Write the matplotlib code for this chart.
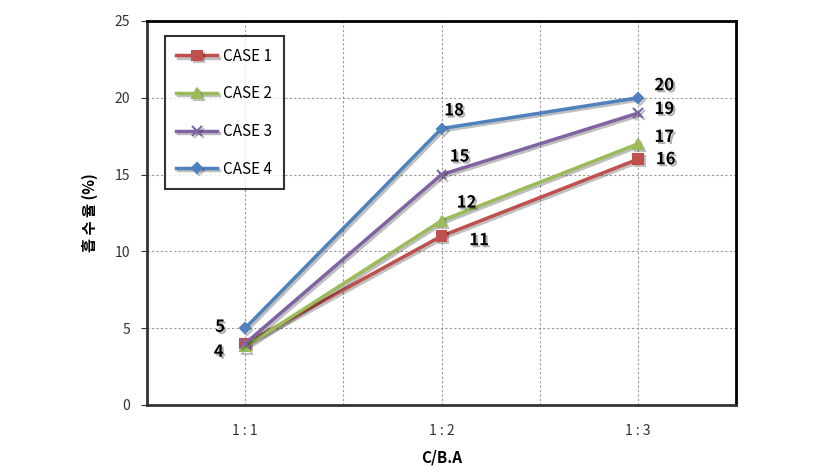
import matplotlib.pyplot as plt
import matplotlib.patheffects as pe
import numpy as np

plt.rcParams['font.family'] = ['Noto Sans CJK KR', 'DejaVu Sans']

categories = ['1 : 1', '1 : 2', '1 : 3']
case1 = [4, 11, 16]
case2 = [3.8, 12, 17]
case3 = [4, 15, 19]
case4 = [5, 18, 20]
series_names = ['CASE 1', 'CASE 2', 'CASE 3', 'CASE 4']

# value labels: (series index, point index, text, dx, dy in points)
labels = [
    (3, 0, '5', -18, 1), (0, 0, '4', -19, -6),
    (3, 1, '18', 9, 13), (2, 1, '15', 13, 13), (1, 1, '12', 18, 13), (0, 1, '11', 27, -3),
    (3, 2, '20', 19, 9), (2, 2, '19', 19, 3), (1, 2, '17', 19, 5), (0, 2, '16', 20, 0),
]

colors = ['#C0504D', '#9BBB59', '#8064A2', '#4F81BD']
markers = ['s', '^', 'x', 'D']
msizes = [7, 7, 7, 5]

fig = plt.figure(figsize=(8.28, 4.75), dpi=100)
ax = fig.add_axes([0.1775, 0.1474, 0.7115, 0.8084])

x = np.arange(1, len(categories) + 1)
data = [case1, case2, case3, case4]
shadow = [pe.SimpleLineShadow(offset=(1.5, -1.5), alpha=0.25), pe.Normal()]
for vals, name, c, m, ms in zip(data, series_names, colors, markers, msizes):
    ax.plot(x, vals, color=c, lw=2.5, marker=m, ms=ms, mew=1.5,
            label=name, path_effects=shadow)

for si, pi, txt, dx, dy in labels:
    ax.annotate(txt, (x[pi], data[si][pi]), xytext=(dx, dy),
                textcoords='offset points', ha='center', va='center',
                fontsize=12, fontweight='bold', color='black',
                path_effects=[pe.SimplePatchShadow(offset=(1.5, -1.5), alpha=0.3), pe.Normal()])

ax.set_xlim(0.5, 3.5)
ax.set_ylim(0, 25)
ax.set_xticks(x)
ax.set_xticklabels(categories)
ax.set_xticks([1.5, 2.5], minor=True)
ax.set_yticks(np.arange(0, 26, 5))
ax.tick_params(axis='x', length=0, which='both', pad=14, labelsize=10, colors='#333333')
ax.tick_params(axis='y', length=4, pad=8, labelsize=10, colors='#333333')
ax.grid(True, which='both', color='#999999', ls=(0, (2, 2)), lw=0.8)
ax.set_axisbelow(True)
for s in ax.spines.values():
    s.set_linewidth(2)
    s.set_color('black')
ax.spines['left'].set_color('#333333')
ax.spines['bottom'].set_color('#333333')

ax.set_xlabel('C/B.A', fontsize=11, fontweight='bold', labelpad=8)
ax.set_ylabel('흡 수 율 (%)', fontsize=11, fontweight='bold', labelpad=12)

leg = ax.legend(loc='upper left', bbox_to_anchor=(0.03, 0.96), frameon=True,
                fancybox=False, edgecolor='black', fontsize=11,
                handlelength=2.7, handletextpad=0.4, labelspacing=1.35,
                borderpad=0.75, borderaxespad=0)
leg.get_frame().set_linewidth(1.5)

fig.savefig('out.png', dpi=100)
